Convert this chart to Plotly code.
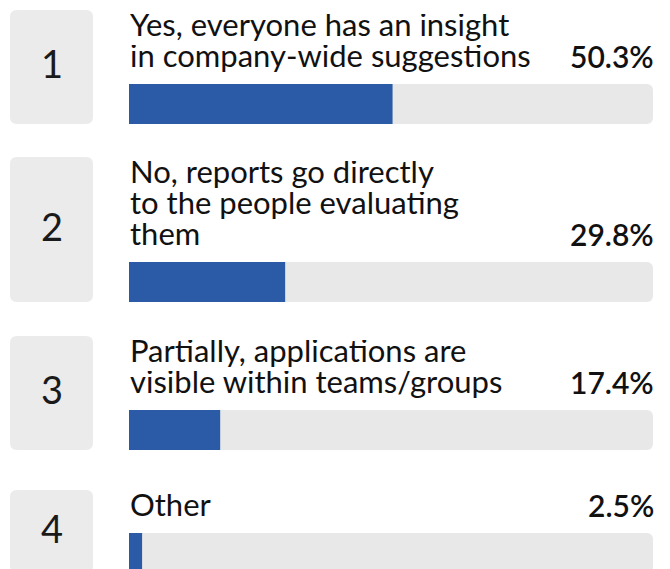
import plotly.graph_objects as go

# Survey answers and their shares (%)
ranks = ["1", "2", "3", "4"]
answers = [
    "Yes, everyone has an insight<br>in company-wide suggestions",
    "No, reports go directly<br>to the people evaluating<br>them",
    "Partially, applications are<br>visible within teams/groups",
    "Other",
]
shares = [50.3, 29.8, 17.4, 2.5]

W, H = 670, 569
BLUE = "#2B5BA7"
TRACK = "#E8E8E8"
FONT = "Lato, 'Open Sans', sans-serif"

# Row geometry (pixels)
row_tops = [10, 157, 336, 490]
LINE = 31
BAR_H = 40
BOX_X0, BOX_X1 = 10, 93
BAR_X0, BAR_X1 = 129, 653
LABEL_SIZE = 31
PCT_SIZE = 30
RANK_SIZE = 38

n_lines = [a.count("<br>") + 1 for a in answers]
row_heights = [83 + LINE * (k - 1) for k in n_lines]
row_bottoms = [t + h for t, h in zip(row_tops, row_heights)]
bar_centers = [b - BAR_H / 2 for b in row_bottoms]

fig = go.Figure()
fig.add_trace(go.Bar(
    y=bar_centers, x=[100] * len(shares), orientation="h", width=BAR_H,
    marker=dict(color=TRACK, line=dict(width=0)), hoverinfo="skip",
))
fig.add_trace(go.Bar(
    y=bar_centers, x=shares, orientation="h", width=BAR_H,
    marker=dict(color=BLUE, line=dict(width=0)),
    hovertemplate="%{x:.1f}%<extra></extra>",
))


def px(x):
    """Horizontal pixel position -> paper fraction."""
    return x / W


def rounded_rect(x0, y0, x1, y1, r):
    rx = r / W
    a, b = px(x0), px(x1)
    return (f"M{a + rx},{y0} L{b - rx},{y0} Q{b},{y0} {b},{y0 + r} "
            f"L{b},{y1 - r} Q{b},{y1} {b - rx},{y1} L{a + rx},{y1} "
            f"Q{a},{y1} {a},{y1 - r} L{a},{y0 + r} Q{a},{y0} {a + rx},{y0} Z")


shapes, annotations = [], []
for rank, answer, share, top, bottom in zip(ranks, answers, shares, row_tops, row_bottoms):
    shapes.append(dict(type="path", xref="paper", yref="y",
                       path=rounded_rect(BOX_X0, top, BOX_X1, bottom, 7),
                       fillcolor="#EBEBEB", line=dict(width=0), layer="below"))
    annotations.append(dict(xref="paper", yref="y", x=px((BOX_X0 + BOX_X1) / 2),
                            y=(top + bottom) / 2 - 4, text=rank, showarrow=False,
                            xanchor="center", yanchor="middle",
                            font=dict(family=FONT, size=RANK_SIZE, color="#1a1a1a")))
    text_base = bottom - BAR_H - 8
    lines = answer.split("<br>")
    for i, line in enumerate(reversed(lines)):
        annotations.append(dict(xref="paper", yref="y", x=px(BAR_X0 - 1),
                                y=text_base - i * LINE, height=LINE - 2,
                                valign="bottom",
                                text=line, showarrow=False, xanchor="left",
                                yanchor="bottom",
                                font=dict(family=FONT, size=LABEL_SIZE, color="#111111")))
    annotations.append(dict(xref="paper", yref="y", x=px(BAR_X1 + 3), y=text_base,
                            height=LINE - 2, valign="bottom",
                            text=f"{share:.1f}%", showarrow=False,
                            xanchor="right", yanchor="bottom",
                            font=dict(family=FONT, size=PCT_SIZE, weight=600,
                                      color="#111111")))

fig.update_layout(
    width=W, height=H, margin=dict(l=0, r=0, t=0, b=0),
    paper_bgcolor="white", plot_bgcolor="white",
    barmode="overlay", barcornerradius=6, showlegend=False,
    xaxis=dict(domain=[BAR_X0 / W, BAR_X1 / W], range=[0, 100], visible=False,
               fixedrange=True),
    yaxis=dict(range=[H, 0], visible=False, fixedrange=True),
    shapes=shapes, annotations=annotations,
)

fig.write_html("out.html")
